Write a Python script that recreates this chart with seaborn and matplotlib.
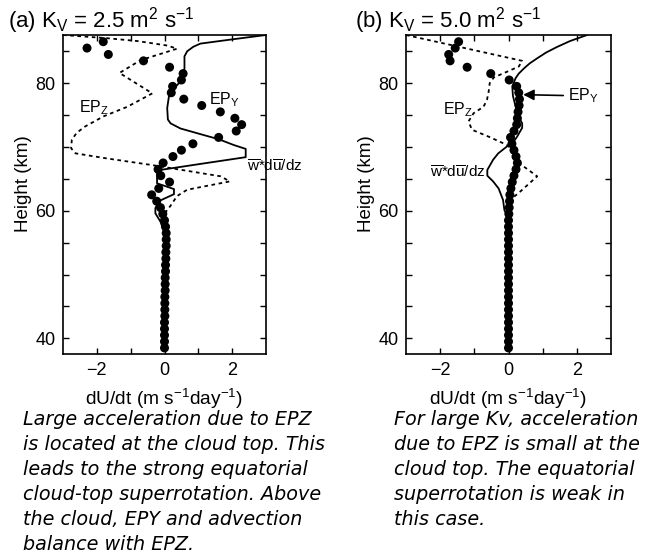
import matplotlib
matplotlib.use("Agg")
import matplotlib.pyplot as plt
import seaborn as sns
import pandas as pd

# ---------------------------------------------------------------- data
# EP_Y acceleration (dots), one value per 1-km level
dot_height = [86.5, 85.5, 84.5, 83.5, 82.5, 81.5, 80.5, 79.5, 78.5, 77.5,
              76.5, 75.5, 74.5, 73.5, 72.5, 71.5, 70.5, 69.5, 68.5, 67.5,
              66.5, 65.5, 64.5, 63.5, 62.5, 61.5, 60.5, 59.5, 58.5, 57.5,
              56.5, 55.5, 54.5, 53.5, 52.5, 51.5, 50.5, 49.5, 48.5, 47.5,
              46.5, 45.5, 44.5, 43.5, 42.5, 41.5, 40.5, 39.5, 38.5]

epy_a = [-1.81, -2.29, -1.66, -0.62, 0.15, 0.55, 0.50, 0.24, 0.20, 0.57,
         1.10, 1.65, 2.08, 2.28, 2.12, 1.60, 0.84, 0.50, 0.25, -0.04,
         -0.19, -0.11, 0.15, -0.17, -0.38, -0.23, -0.12, -0.05, 0.00, 0.03,
         0.05, 0.05, 0.05, 0.04, 0.04, 0.03, 0.03, 0.02, 0.02, 0.02,
         0.01, 0.01, 0.01, 0.01, 0.00, 0.00, 0.00, 0.00, 0.00]

epy_b = [-1.46, -1.56, -1.75, -1.71, -1.21, -0.52, 0.02, 0.24, 0.30, 0.32,
         0.31, 0.28, 0.26, 0.24, 0.16, 0.06, 0.10, 0.16, 0.22, 0.26,
         0.22, 0.16, 0.11, 0.07, 0.04, 0.03, 0.02, 0.01, 0.00, 0.00,
         0.00, 0.00, 0.00, 0.00, 0.00, 0.00, 0.00, 0.00, 0.00, 0.00,
         0.00, 0.00, 0.00, 0.00, 0.00, 0.00, 0.00, 0.00, 0.00]

# EP_Z acceleration (dashed)
epz_a_height = [87.55, 87.05, 86.6, 85.9, 85.4, 83.6, 81.6, 78.4, 76.3, 74.8,
                73.2, 72.2, 71.1, 69.8, 69.0, 68.2, 67.2, 65.4, 64.6, 63.3,
                62.3, 60.8, 59.9, 58.0, 38.5]
epz_a = [-3.0, -1.7, -0.8, 0.08, 0.37, -0.71, -1.33, -0.36, -1.10, -1.80,
         -2.35, -2.60, -2.74, -2.76, -2.63, -1.70, -0.41, 1.66, 1.93, 0.67,
         0.37, 0.18, 0.05, 0.02, 0.00]

epz_b_height = [87.55, 83.5, 82.6, 81.8, 80.9, 80.0, 78.7, 77.4, 76.3, 75.3,
                74.0, 72.7, 71.5, 70.3, 69.5, 67.5, 65.4, 62.8, 62.2, 61.0,
                59.5, 38.5]
epz_b = [-3.0, 0.40, 0.30, -0.04, -0.43, -0.55, -0.58, -0.63, -0.73, -1.02,
         -1.17, -1.07, -0.53, -0.04, 0.12, 0.30, 0.84, 0.30, 0.16, 0.05,
         0.00, 0.00]

# mean-meridional advection w* du/dz (solid)
adv_a_height = [87.55, 86.9, 86.2, 85.7, 85.0, 84.2, 82.3, 80.5, 79.2, 77.9,
                76.1, 74.3, 73.7, 72.9, 72.0, 71.2, 70.3, 69.7, 68.4, 67.5,
                66.4, 66.1, 64.3, 63.4, 62.6, 61.5, 60.4, 59.6, 58.3, 56.5,
                55.4, 38.5]
adv_a = [3.0, 2.05, 1.06, 0.85, 0.67, 0.59, 0.59, 0.52, 0.28, 0.13,
         0.08, 0.10, 0.18, 0.47, 1.07, 1.61, 2.05, 2.40, 2.40, 1.26,
         -0.12, -0.22, -0.22, 0.28, 0.28, -0.17, -0.27, -0.27, -0.12, 0.00,
         0.03, 0.02]

adv_b_height = [87.55, 86.6, 85.7, 84.8, 83.9, 83.1, 82.3, 81.5, 80.8, 79.5,
                78.0, 76.3, 74.7, 73.7, 73.0, 71.6, 70.6, 70.1, 69.0, 68.0,
                66.4, 65.5, 64.6, 63.5, 61.7, 60.1, 59.0, 38.5]
adv_b = [2.3, 1.8, 1.43, 1.1, 0.84, 0.62, 0.45, 0.30, 0.21, 0.11,
         0.13, 0.21, 0.30, 0.40, 0.40, 0.25, 0.12, -0.04, -0.30, -0.45,
         -0.62, -0.62, -0.45, -0.29, -0.16, -0.12, -0.02, 0.00]

panel_titles = [r"(a) K$_\mathrm{V}$ = 2.5 m$^2$ s$^{-1}$",
                r"(b) K$_\mathrm{V}$ = 5.0 m$^2$ s$^{-1}$"]
x_ticks = [-2, -1, 0, 1, 2]
x_ticklabels = ["\u22122", "", "0", "", "2"]
y_ticks = [40, 45, 50, 55, 60, 65, 70, 75, 80, 85]
y_ticklabels = ["40", "", "", "", "60", "", "", "", "80", ""]

caption_a = ["Large acceleration due to EPZ",
             "is located at the cloud top. This",
             "leads to the strong equatorial",
             "cloud-top superrotation. Above",
             "the cloud, EPY and advection",
             "balance with EPZ."]
caption_b = ["For large Kv, acceleration",
             "due to EPZ is small at the",
             "cloud top. The equatorial",
             "superrotation is weak in",
             "this case."]

# ---------------------------------------------------------------- style
sns.set_theme(style="ticks")
plt.rcParams["font.family"] = ["Liberation Sans", "DejaVu Sans"]
plt.rcParams["mathtext.fontset"] = "custom"
plt.rcParams["mathtext.rm"] = "Liberation Sans"
plt.rcParams["mathtext.it"] = "Liberation Sans:italic"
plt.rcParams["mathtext.bf"] = "Liberation Sans:bold"
plt.rcParams["axes.unicode_minus"] = True
for key in ["text.color", "axes.labelcolor", "xtick.color", "ytick.color",
            "axes.edgecolor"]:
    plt.rcParams[key] = "black"

W, H = 654, 560
fig = plt.figure(figsize=(W / 100, H / 100), dpi=100)
ax_a = fig.add_axes([63 / W, 1 - 354 / H, 203 / W, 319 / H])
ax_b = fig.add_axes([406 / W, 1 - 354 / H, 205 / W, 319 / H])

wdu = r"$\overline{\mathrm{w}}$*d$\overline{\mathrm{u}}$/dz"


def draw_panel(ax, epy, epz_h, epz, adv_h, adv):
    sns.lineplot(x=epz, y=epz_h, ax=ax, sort=False, orient="y",
                 estimator=None, color="black", lw=1.3,
                 linestyle=(0, (2.0, 2.0)))
    sns.lineplot(x=adv, y=adv_h, ax=ax, sort=False, orient="y",
                 estimator=None, color="black", lw=1.3)
    sns.scatterplot(x=epy, y=dot_height, ax=ax, color="black", s=42,
                    edgecolor="none", linewidth=0, zorder=3)
    ax.set_xlim(-3, 3)
    ax.set_ylim(37.55, 87.55)
    ax.set_xticks(x_ticks)
    ax.set_xticklabels(x_ticklabels)
    ax.set_yticks(y_ticks)
    ax.set_yticklabels(y_ticklabels)
    ax.tick_params(direction="in", top=True, right=True, length=4,
                   width=1.0, labelsize=13, pad=5.5, colors="black")
    for sp in ax.spines.values():
        sp.set_linewidth(1.2)
        sp.set_color("black")
    ax.set_xlabel(r"dU/dt (m s$^{-1}$day$^{-1}$)", fontsize=13.8)
    ax.set_ylabel("Height (km)", fontsize=13.5)
    ax.xaxis.set_label_coords(0.5, -0.1025)
    ax.yaxis.set_label_coords(-0.153, 0.533)


draw_panel(ax_a, epy_a, epz_a_height, epz_a, adv_a_height, adv_a)
draw_panel(ax_b, epy_b, epz_b_height, epz_b, adv_b_height, adv_b)

# curve labels, panel (a)
ax_a.text(1.33, 77.4, r"EP$_\mathrm{Y}$", fontsize=11.5, ha="left", va="center")
ax_a.text(-2.54, 76.1, r"EP$_\mathrm{Z}$", fontsize=11.5, ha="left", va="center")
ax_a.text(2.44, 66.9, wdu, fontsize=11, ha="left", va="center", zorder=4)

# curve labels, panel (b)
ax_b.text(-1.92, 75.8, r"EP$_\mathrm{Z}$", fontsize=11.5, ha="left", va="center")
ax_b.text(-2.29, 65.9, wdu, fontsize=11, ha="left", va="center")
ax_b.annotate(r"EP$_\mathrm{Y}$", xy=(0.43, 78.2), xytext=(1.74, 78.0),
              fontsize=11.5, ha="left", va="center",
              arrowprops=dict(arrowstyle="-|>", color="black", lw=1.2,
                              mutation_scale=16, shrinkA=1, shrinkB=0))

# panel titles
fig.text(8 / W, 1 - 27 / H, panel_titles[0], fontsize=16, va="baseline")
fig.text(355 / W, 1 - 27 / H, panel_titles[1], fontsize=16, va="baseline")

# explanatory captions
cap_font = dict(fontsize=13.8, style="italic", va="baseline",
                family=["DejaVu Sans"])
for i, line in enumerate(caption_a):
    fig.text(23 / W, 1 - (425 + 25 * i) / H, line, **cap_font)
for i, line in enumerate(caption_b):
    fig.text(394 / W, 1 - (425 + 25 * i) / H, line, **cap_font)

fig.savefig("out.png", dpi=100, facecolor="white")
